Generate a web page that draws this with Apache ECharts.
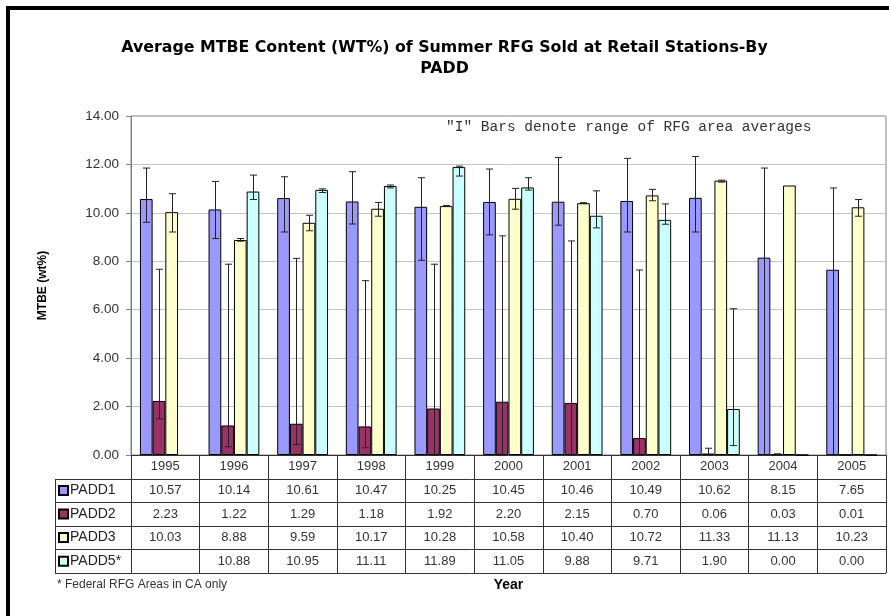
<!DOCTYPE html>
<html>
<head>
<meta charset="utf-8">
<script src="https://cdn.jsdelivr.net/npm/echarts@6/dist/echarts.min.js"></script>
<style>html,body{margin:0;padding:0;background:#fff;}#c{width:889px;height:616px;}</style>
</head>
<body>
<div id="c"></div>
<script>
const years = ['1995','1996','1997','1998','1999','2000','2001','2002','2003','2004','2005'];
const seriesNames = ['PADD1','PADD2','PADD3','PADD5*'];
const padd1 = [10.57,10.14,10.61,10.47,10.25,10.45,10.46,10.49,10.62,8.15,7.65];
const padd2 = [2.23,1.22,1.29,1.18,1.92,2.20,2.15,0.70,0.06,0.03,0.01];
const padd3 = [10.03,8.88,9.59,10.17,10.28,10.58,10.40,10.72,11.33,11.13,10.23];
const padd5 = [null,10.88,10.95,11.11,11.89,11.05,9.88,9.71,1.90,0.00,0.00];
// error bar ranges (high / low)
const padd1Hi = [11.85,11.30,11.49,11.70,11.45,11.81,12.29,12.25,12.33,11.85,11.03];
const padd1Lo = [9.61,8.94,9.21,9.54,8.04,9.09,9.49,9.21,9.21,0.01,0.00];
const padd2Hi = [7.67,7.88,8.12,7.20,7.88,9.05,8.84,7.64,0.28,0.05,null];
const padd2Lo = [1.49,0.34,0.43,0.30,0.00,0.00,0.00,0.00,0.00,0.00,null];
const padd3Hi = [10.79,8.94,9.90,10.43,10.30,11.01,10.42,10.97,11.35,null,10.55];
const padd3Lo = [9.21,8.83,9.26,9.86,10.26,10.15,10.38,10.50,11.27,null,9.86];
const padd5Hi = [null,11.56,10.99,11.15,11.93,11.45,10.91,10.37,6.04,null,null];
const padd5Lo = [null,10.55,10.84,11.03,11.52,10.94,9.38,9.53,0.39,null,null];
const yTicks = [0,2,4,6,8,10,12,14];
const titleText = 'Average MTBE Content (WT%) of Summer RFG Sold at Retail Stations-By\nPADD';
const noteText = '"I" Bars denote range of RFG area averages';
const footText = '* Federal RFG Areas in CA only';

const colors = ['#9999FF','#993366','#FFFFCC','#CCFFFF'];
const values = [padd1,padd2,padd3,padd5];
const his = [padd1Hi,padd2Hi,padd3Hi,padd5Hi];
const los = [padd1Lo,padd2Lo,padd3Lo,padd5Lo];

const G = {left:131, top:116, width:755, height:339};
const rowH = 23.6;
const tableTop = G.top + G.height;
const catGap = 0.26;
const FONT = '"Liberation Sans", Arial, sans-serif';

const fmt = v => (v === null || v === undefined) ? '\u00a0' : v.toFixed(2);

const barSeries = values.map((vals, i) => ({
  name: seriesNames[i],
  type: 'bar',
  data: vals.map(v => v === null ? '-' : v),
  barGap: '0%',
  barCategoryGap: (catGap*100) + '%',
  itemStyle: {color: colors[i], borderColor: '#000', borderWidth: 1},
  emphasis: {disabled: true},
  z: 2
}));

const errSeries = values.map((vals, i) => ({
  type: 'custom',
  name: 'err' + i,
  z: 5,
  silent: true,
  data: years.map((y, k) => his[i][k] === null ? null : [k, his[i][k], los[i][k]]).filter(d => d),
  renderItem: function (params, api) {
    const k = api.value(0);
    const hi = api.coord([k, api.value(1)]);
    const lo = api.coord([k, api.value(2)]);
    const catW = api.size([1, 0])[0];
    const barW = catW * (1 - catGap) / 4;
    const x = Math.round(hi[0] + (i - 1.5) * barW) + 0.5;
    const cap = 3.5;
    const st = {stroke: '#222', lineWidth: 1};
    return {
      type: 'group',
      children: [
        {type: 'line', shape: {x1: x, y1: hi[1], x2: x, y2: lo[1]}, style: st},
        {type: 'line', shape: {x1: x - cap, y1: hi[1], x2: x + cap, y2: hi[1]}, style: st},
        {type: 'line', shape: {x1: x - cap, y1: lo[1], x2: x + cap, y2: lo[1]}, style: st}
      ]
    };
  }
}));

const tableLines = [];
const xL = 55, xR = G.left + G.width;
for (let r = 1; r <= 5; r++) {
  const y = Math.round(tableTop + r * rowH) + 0.5;
  tableLines.push({type: 'line', shape: {x1: xL, y1: y, x2: xR, y2: y}, style: {stroke: '#333', lineWidth: 1}, silent: true});
}
tableLines.push({type: 'line', shape: {x1: xL + 0.5, y1: Math.round(tableTop + rowH), x2: xL + 0.5, y2: Math.round(tableTop + 5 * rowH) + 1}, style: {stroke: '#333', lineWidth: 1}, silent: true});

const chart = echarts.init(document.getElementById('c'), null, {renderer: 'canvas'});
chart.setOption({
  backgroundColor: '#fff',
  animation: false,
  title: {
    text: titleText,
    left: 'center',
    top: 37,
    padding: [0, 0, 0, 11],
    textStyle: {fontFamily: '"DejaVu Sans", sans-serif', fontSize: 15.8, fontWeight: 'bold', color: '#000', lineHeight: 21}
  },
  legend: {
    data: seriesNames,
    orient: 'vertical',
    left: 58,
    top: tableTop + rowH + (rowH - 14) / 2,
    padding: 0,
    itemWidth: 9,
    itemHeight: 9,
    itemGap: rowH - 14,
    icon: 'rect',
    selectedMode: false,
    textStyle: {fontFamily: FONT, fontSize: 14, lineHeight: 14, color: '#222', padding: [0, 0, 0, -3]}
  },
  grid: {left: G.left, top: G.top, width: G.width, height: G.height, show: true, borderColor: '#808080', borderWidth: 1, containLabel: false},
  xAxis: {
    type: 'category',
    data: years,
    boundaryGap: true,
    name: 'Year',
    nameLocation: 'middle',
    nameGap: 122,
    nameTextStyle: {fontFamily: FONT, fontSize: 14, fontWeight: 'bold', color: '#000'},
    axisLine: {lineStyle: {color: '#333', width: 1}},
    axisTick: {show: true, interval: 0, length: 5 * rowH, inside: false, lineStyle: {color: '#333', width: 1}},
    axisLabel: {
      interval: 0,
      margin: 0,
      fontFamily: FONT,
      fontSize: 13,
      color: '#333',
      lineHeight: rowH,
      formatter: function (val, idx) {
        return [val, fmt(padd1[idx]), fmt(padd2[idx]), fmt(padd3[idx]), fmt(padd5[idx])].join('\n');
      }
    }
  },
  yAxis: {
    type: 'value',
    min: yTicks[0],
    max: yTicks[yTicks.length - 1],
    interval: 2,
    name: 'MTBE (wt%)',
    nameLocation: 'middle',
    nameGap: 82,
    nameTextStyle: {fontFamily: FONT, fontSize: 12, fontWeight: 'bold', color: '#000'},
    axisLine: {show: true, lineStyle: {color: '#808080'}},
    axisTick: {show: true, length: 5, lineStyle: {color: '#808080'}},
    axisLabel: {fontFamily: FONT, fontSize: 13.5, color: '#333', margin: 12, formatter: v => v.toFixed(2)},
    splitLine: {lineStyle: {color: '#c4c4c4', width: 1}}
  },
  graphic: [
    {type: 'rect', shape: {x: 8, y: 8, width: 1000, height: 1000}, style: {fill: 'none', stroke: '#000', lineWidth: 4}, silent: true, z: 100},
    {type: 'text', x: 446, y: 127, style: {text: noteText, font: '14.5px "Liberation Mono", "Courier New", monospace', fill: '#333', textVerticalAlign: 'middle'}, silent: true, z: 100},
    {type: 'text', x: 57, y: 585, style: {text: footText, font: '12px "Liberation Sans", Arial, sans-serif', fill: '#333', textVerticalAlign: 'middle'}, silent: true, z: 100}
  ].concat(tableLines),
  series: barSeries.concat(errSeries)
});
</script>
</body>
</html>
